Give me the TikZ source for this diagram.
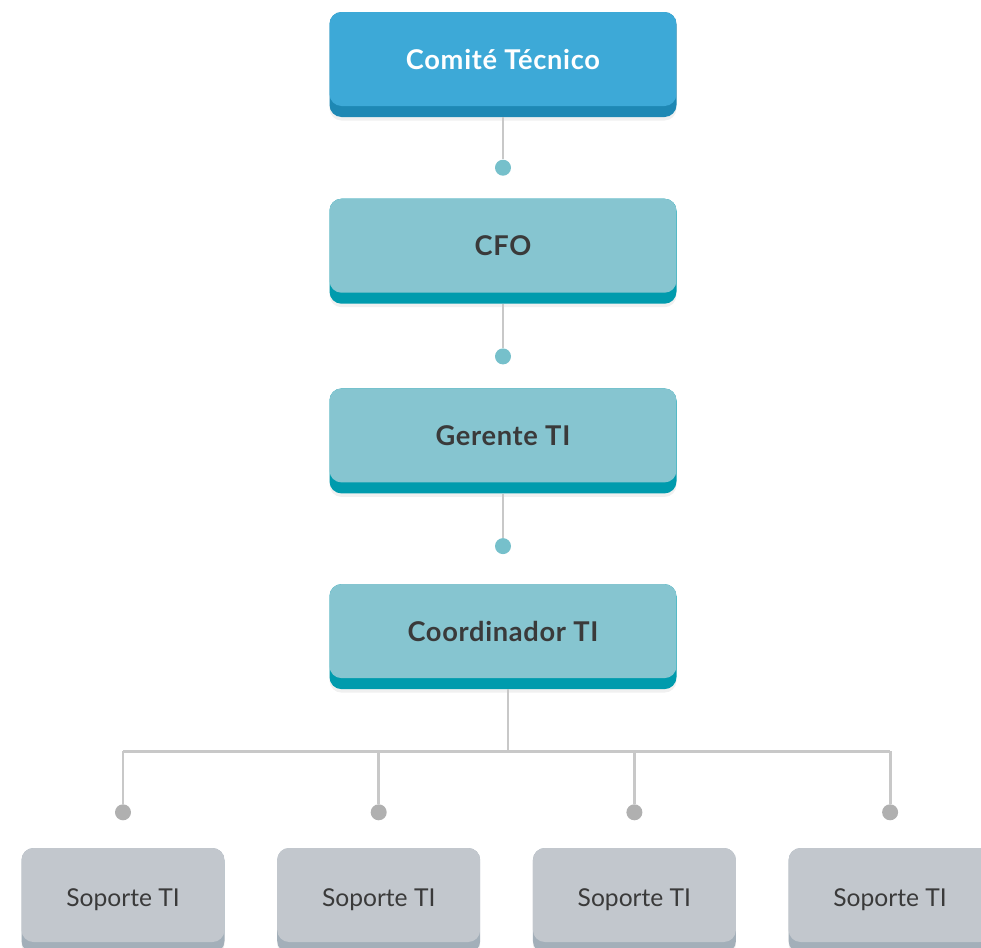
\documentclass[tikz,border=0pt]{standalone}
\usepackage{fontspec}
\setmainfont{Lato}
\usetikzlibrary{positioning,shadows}

\definecolor{topface}{HTML}{3DA9D7}
\definecolor{topbase}{HTML}{1E88B4}
\definecolor{midface}{HTML}{86C5D0}
\definecolor{midbase}{HTML}{009BAD}
\definecolor{supface}{HTML}{C2C7CD}
\definecolor{supbase}{HTML}{A3AFB9}
\definecolor{tealdot}{HTML}{76C0CB}
\definecolor{graydot}{HTML}{B0B0B0}
\definecolor{linegray}{HTML}{C8C8C8}
\definecolor{ink}{HTML}{3A3A3A}

\begin{document}
\begin{tikzpicture}[
    face/.style={path picture={\fill[#1, rounded corners=0.24cm] (path picture bounding box.north west) rectangle ([yshift=0.22cm]path picture bounding box.south east);}},
    box/.style={rectangle, rounded corners=0.24cm, minimum width=6.94cm, minimum height=2.1cm, inner sep=0pt,
        text height=0.4cm, text depth=0.21cm, font=\fontsize{15.5}{18}\selectfont\bfseries\addfontfeatures{LetterSpace=2.5},
        drop shadow={opacity=0.12, shadow xshift=0pt, shadow yshift=-2pt}},
    topbox/.style={box, fill=topbase, face=topface, text=white},
    midbox/.style={box, fill=midbase, face=midface, text=ink},
    supbox/.style={box, minimum width=4.06cm, fill=supbase, face=supface, text=ink,
        text depth=0.18cm, font=\fontsize{14}{17}\selectfont},
    dot/.style={circle, inner sep=0pt, minimum size=0.32cm, fill=#1},
    link/.style={draw=linegray, line width=1.6pt}]

    \useasboundingbox (0,0) rectangle (19.62,-18.96);

    % Cadena principal
    \node [topbox] (comite) at (10.06,-1.29) {Comité Técnico};
    \node [dot=tealdot, below=0.84cm of comite] (d1) {};
    \node [midbox, below=1.62cm of comite] (cfo) {CFO};
    \node [dot=tealdot, below=0.88cm of cfo] (d2) {};
    \node [midbox, below=1.68cm of cfo] (gerente) {Gerente TI};
    \node [dot=tealdot, below=0.88cm of gerente] (d3) {};
    \node [midbox, below=1.8cm of gerente] (coord) {Coordinador TI};

    % Soporte
    \node [supbox] (sop1) at (2.46,-18.01) {Soporte TI};
    \node [supbox, right=1.04cm of sop1] (sop2) {Soporte TI};
    \node [supbox, right=1.04cm of sop2] (sop3) {Soporte TI};
    \node [supbox, right=1.04cm of sop3] (sop4) {Soporte TI};
    \node [dot=graydot, above=0.54cm of sop1] (g1) {};
    \node [dot=graydot, above=0.54cm of sop2] (g2) {};
    \node [dot=graydot, above=0.54cm of sop3] (g3) {};
    \node [dot=graydot, above=0.54cm of sop4] (g4) {};

    % Conexiones
    \draw[link] (comite.south) -- (d1.north);
    \draw[link] (cfo.south) -- (d2.north);
    \draw[link] (gerente.south) -- (d3.north);

    \coordinate [below=1.24cm of coord.south, xshift=0.1cm] (bus);
    \draw[link] (coord.south -| bus) -- (bus);
    \draw[link] (g1 |- bus) -- (g4 |- bus);
    \draw[link] (g1 |- bus) -- (g1.north);
    \draw[link] (g2 |- bus) -- (g2.north);
    \draw[link] (g3 |- bus) -- (g3.north);
    \draw[link] (g4 |- bus) -- (g4.north);

\end{tikzpicture}
\end{document}
